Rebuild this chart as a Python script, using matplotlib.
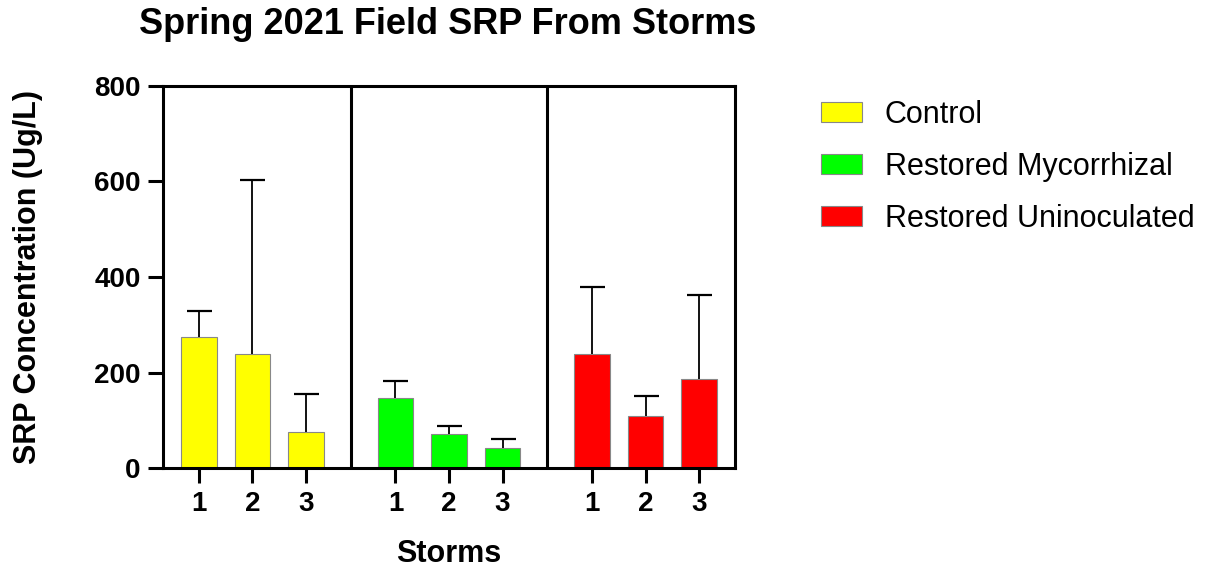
import matplotlib
matplotlib.use("Agg")
import matplotlib.pyplot as plt
from matplotlib.patches import Patch

plt.rcParams['font.family'] = ['Liberation Sans', 'DejaVu Sans']

groups = ["Control", "Restored Mycorrhizal", "Restored Uninoculated"]
storms = ["1", "2", "3"]
colors = ["#FFFF00", "#00FF00", "#FF0000"]
means = [[274, 238, 76],
         [148, 72, 42],
         [240, 110, 186]]
upper_err = [[55, 365, 79],
             [35, 17, 20],
             [139, 42, 177]]

fig = plt.figure(figsize=(12.08, 5.69), dpi=100)
ax = fig.add_axes([163/1208, 1 - 468.3/569, 572/1208, 382.6/569])

group_step = 3.675
first = 0.67
xticks, xlabels = [], []
for g in range(3):
    xs = [first + g * group_step + i for i in range(3)]
    ax.bar(xs, means[g], width=0.66, color=colors[g], edgecolor="#888888", linewidth=0.8, zorder=2)
    _, caps, _ = ax.errorbar(xs, means[g], yerr=[[0]*3, upper_err[g]], fmt='none', ecolor='black',
                             elinewidth=1.3, capsize=9, capthick=1.6, zorder=3)
    caps[0].set_visible(False)
    xticks += xs
    xlabels += storms
    if g < 2:
        ax.axvline(first + g * group_step + 2 + (group_step - 2) / 2, color='black', lw=2.2, zorder=4)

ax.set_xlim(0, 2 * first + 2 * group_step + 2)
ax.set_ylim(0, 800)
ax.set_yticks([0, 200, 400, 600, 800])
ax.set_xticks(xticks)
ax.set_xticklabels(xlabels)
for s in ax.spines.values():
    s.set_linewidth(2.2)
    s.set_color('black')
ax.tick_params(axis='both', length=11, width=2.2, labelsize=20, pad=5)
for lab in ax.get_xticklabels() + ax.get_yticklabels():
    lab.set_fontweight('bold')

ax.set_ylabel("SRP Concentration (Ug/L)", fontsize=22, fontweight='bold', labelpad=37)
ax.set_xlabel("Storms", fontsize=22, fontweight='bold', labelpad=16)
fig.text(448/1208, 1 - 25/569, "Spring 2021 Field SRP From Storms", fontsize=26, fontweight='bold',
         ha='center', va='center')

handles = [Patch(facecolor=c, edgecolor="#888888", linewidth=0.8) for c in colors]
fig.legend(handles, groups, loc='upper left', bbox_to_anchor=(818/1208, 1 - 97/569),
           frameon=False, fontsize=22, handlelength=1.34, handleheight=0.62,
           labelspacing=0.72, handletextpad=0.75, borderaxespad=0, borderpad=0.1)

fig.savefig("out.png", dpi=100)
